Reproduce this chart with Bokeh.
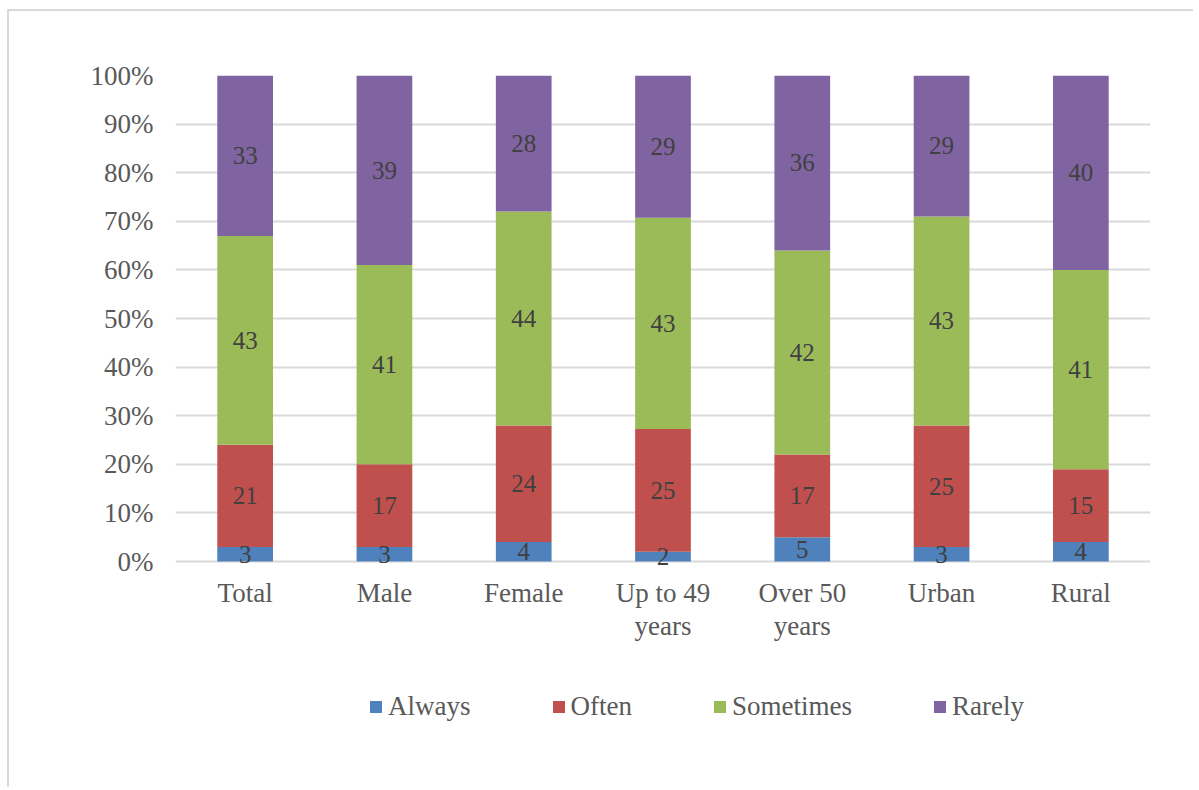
from bokeh.plotting import figure
from bokeh.models import ColumnDataSource, FactorRange, Range1d, FixedTicker, NumeralTickFormatter, Legend, LegendItem
from bokeh.core.properties import value
from bokeh.embed import file_html
from bokeh.resources import INLINE

categories = ["Total", "Male", "Female", "Up to 49\nyears", "Over 50\nyears", "Urban", "Rural"]
series = ["Always", "Often", "Sometimes", "Rarely"]
always = [3, 3, 4, 2, 5, 3, 4]
often = [21, 17, 24, 25, 17, 25, 15]
sometimes = [43, 41, 44, 43, 42, 43, 41]
rarely = [33, 39, 28, 29, 36, 29, 40]
y_ticks = [0.0, 0.1, 0.2, 0.3, 0.4, 0.5, 0.6, 0.7, 0.8, 0.9, 1.0]
colors = ["#4F81BD", "#C0504D", "#9BBB59", "#8064A2"]

FONT = "Liberation Serif"
raw = {"Always": always, "Often": often, "Sometimes": sometimes, "Rarely": rarely}
totals = [sum(v) for v in zip(always, often, sometimes, rarely)]
data = {"cat": categories}
for s in series:
    data[s] = [v / t for v, t in zip(raw[s], totals)]
src = ColumnDataSource(data)

# frame extends below the 0% line to host the category labels and legend
y_bottom = -(760 - 561) / 486
p = figure(width=1186, height=778, x_range=FactorRange(*categories, range_padding=0),
           y_range=Range1d(y_bottom, 1), output_backend="svg", toolbar_location=None,
           min_border_left=166, min_border_right=45, min_border_top=64, min_border_bottom=29)
p.styles = {"border-top": "2px solid #d9d9d9", "border-left": "2px solid #d9d9d9",
            "margin-top": "9px", "margin-left": "7px"}
p.outline_line_color = None
p.background_fill_color = "white"
p.border_fill_color = "white"

renderers = p.vbar_stack(series, x="cat", width=0.4, color=colors, source=src, line_color=None)

# data labels
for i, s in enumerate(series):
    mids = []
    for j in range(len(categories)):
        b = sum(data[series[k]][j] for k in range(i))
        mids.append(b + data[s][j] / 2)
    lsrc = ColumnDataSource({"x": categories, "y": mids, "t": [str(v) for v in raw[s]]})
    p.text(x="x", y="y", text="t", source=lsrc, text_align="center", text_baseline="middle",
           text_font=value(FONT), text_font_size="25px", text_color="#404040")

# category labels
csrc = ColumnDataSource({"x": categories, "y": [0] * len(categories), "t": categories})
p.text(x="x", y="y", text="t", source=csrc, text_align="center", text_baseline="top",
       y_offset=16, text_font=value(FONT), text_font_size="27px", text_color="#595959",
       text_line_height=1.12)

p.xaxis.visible = False
p.xgrid.grid_line_color = None
p.ygrid.grid_line_color = "#d9d9d9"
p.ygrid.grid_line_width = 2
p.yaxis.ticker = FixedTicker(ticks=y_ticks)
p.yaxis.formatter = NumeralTickFormatter(format="0%")
p.yaxis.axis_line_color = None
p.yaxis.major_tick_line_color = None
p.yaxis.minor_tick_line_color = None
p.yaxis.major_label_text_font = FONT
p.yaxis.major_label_text_font_size = "27px"
p.yaxis.major_label_text_color = "#595959"
p.yaxis.major_label_standoff = 16

legend = Legend(items=[LegendItem(label=s, renderers=[r]) for s, r in zip(series, renderers)],
                orientation="horizontal", location=(193, 38), spacing=80,
                glyph_width=15, glyph_height=15, label_standoff=5, padding=0, margin=0,
                label_text_font=FONT, label_text_font_size="27px", label_text_color="#595959",
                border_line_color=None, background_fill_alpha=0)
p.add_layout(legend, "center")

open("out.html", "w").write(file_html(p, INLINE))
